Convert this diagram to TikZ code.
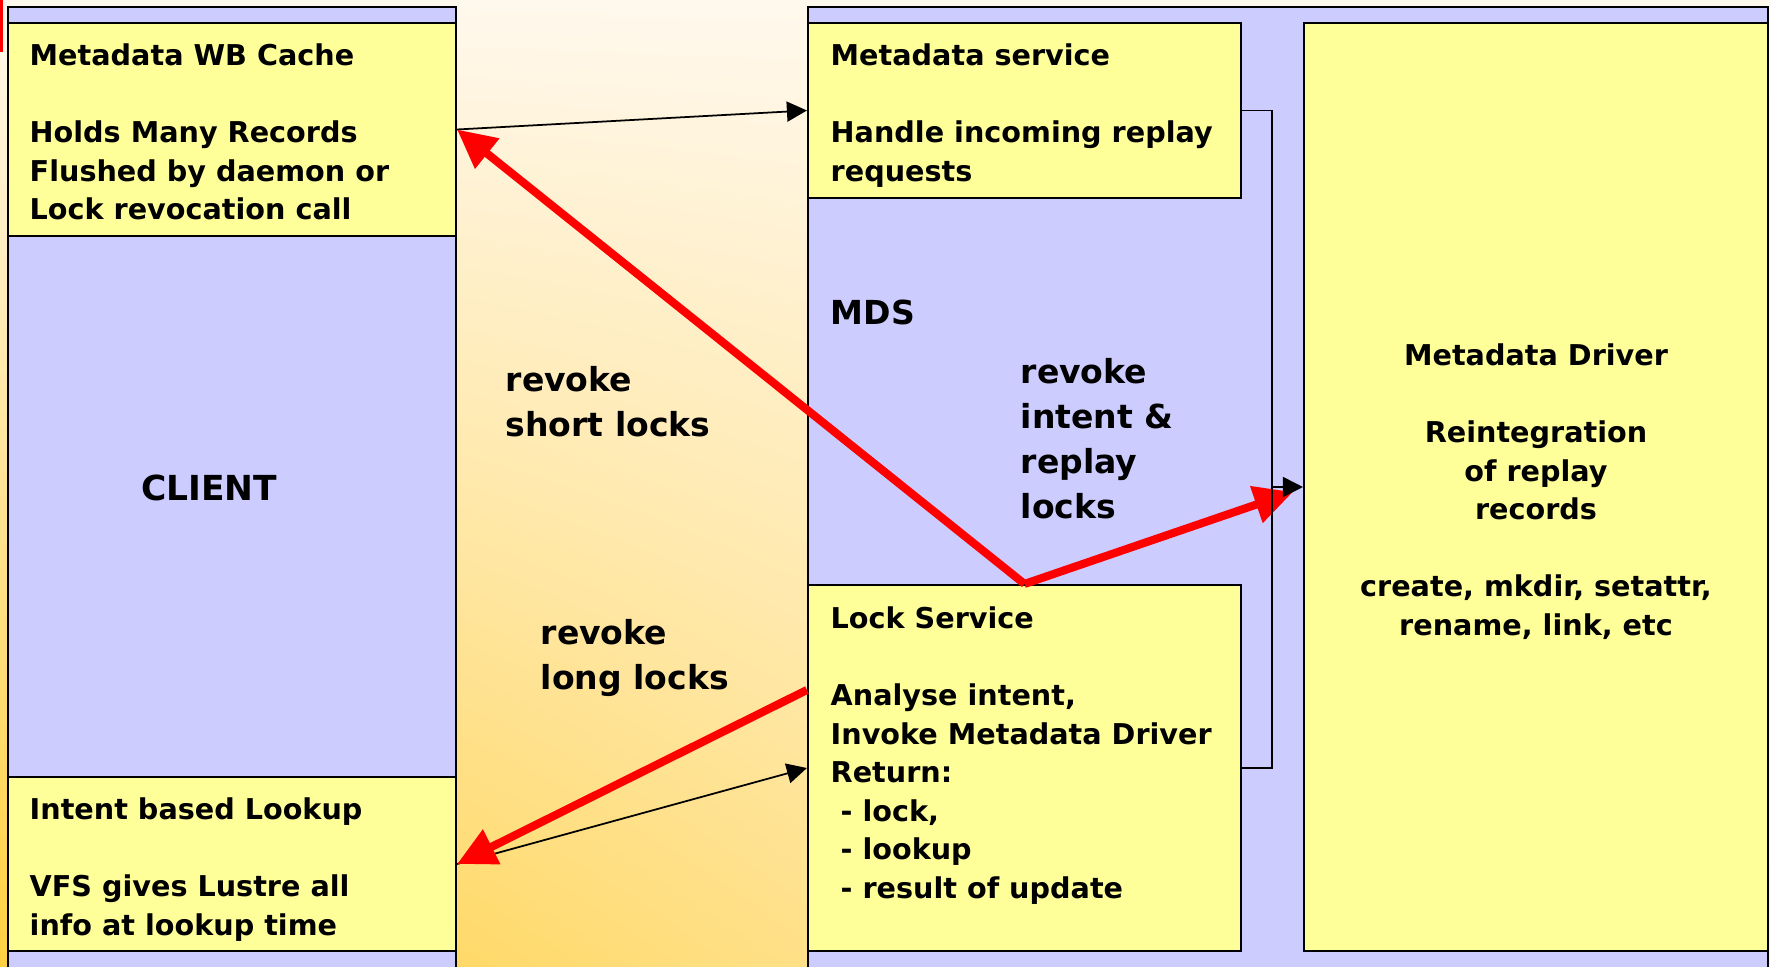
\documentclass[tikz,border=0pt]{standalone}
\usepackage{fontspec}
\setmainfont{DejaVu Sans}
\usetikzlibrary{arrows.meta,fit,shadings}

\definecolor{panelblue}{RGB}{204,204,255}
\definecolor{boxyellow}{RGB}{255,255,153}
\definecolor{bgtop}{RGB}{255,248,237}
\definecolor{bgleft}{RGB}{255,208,64}
\definecolor{bgright}{RGB}{255,243,220}

\tikzset{
  panel/.style={draw, line width=0.6pt, fill=panelblue, inner sep=0pt},
  box/.style={draw, line width=0.6pt, fill=boxyellow, inner sep=0pt},
  txt/.style={inner sep=0pt, align=left, execute at begin node=\strut,
    font=\fontsize{8.15}{10.95}\selectfont\bfseries},
  big/.style={inner sep=0pt, align=left, execute at begin node=\strut,
    font=\fontsize{9.4}{12.8}\selectfont\bfseries},
  call/.style={line width=0.5pt, -{Triangle[length=5.7pt,width=5.7pt]}},
  revoke/.style={red, line width=2.3pt, -{Triangle[length=11pt,width=10.5pt]}}
}

\begin{document}
\begin{tikzpicture}[x=0.01cm,y=0.01cm]
\clip (0,0) rectangle (1770,966);
\shade[upper left=bgtop, upper right=bgtop, lower left=bgleft, lower right=bgright]
  (0,0) rectangle (1770,966);
\fill[red] (0,914) rectangle (3,966);

  % client side
  \node[panel, fit={(8,-20) (456,959)}] (client) {};
  \node[box, fit={(8,730) (456,943)}] (wb) {};
  \node[box, fit={(8,15) (456,189)}] (lookup) {};

  % server side
  \node[panel, fit={(808,-20) (1768,959)}] (mds) {};
  \node[box, fit={(808,768) (1241,943)}] (svc) {};
  \node[box, fit={(808,15) (1241,381)}] (lock) {};
  \node[box, fit={(1304,15) (1768,943)}] (driver) {};
  \coordinate (bend) at (1272,0);

  \node[txt, anchor=north west] (wbtxt) at (29,923)
    {Metadata WB Cache\\[11pt] Holds Many Records\\ Flushed by daemon or\\ Lock revocation call};
  \node[txt, anchor=north west] (lookuptxt) at (29,169)
    {Intent based Lookup\\[11pt] VFS gives Lustre all\\ info at lookup time};
  \node[big, font=\fontsize{9.8}{12.8}\selectfont\bfseries, anchor=base] (clienttxt) at (209,466) {CLIENT};

  \node[txt, anchor=north west] (svctxt) at (830,923)
    {Metadata service\\[11pt] Handle incoming replay\\ requests};
  \node[big, anchor=base west] (mdstxt) at (830,641) {MDS};
  \node[txt, anchor=north west] (locktxt) at (830,360)
    {Lock Service\\[11pt] Analyse intent,\\ Invoke Metadata Driver\\ Return:\\
     \ - lock,\\ \ - lookup\\ \ - result of update};
  \node[txt, align=center, anchor=north] (drivertxt) at (1536,623)
    {Metadata Driver\\[11pt] Reintegration\\ of replay\\ records\\[11pt]
     create, mkdir, setattr,\\ rename, link, etc};

  \node[big, anchor=north west] (shorttxt) at (505,600) {revoke\\ short locks};
  \node[big, anchor=north west] (longtxt) at (540,347) {revoke\\ long locks};
  \node[big, anchor=north west] (intenttxt) at (1020,608) {revoke\\ intent \&\\ replay\\ locks};

  % calls into the server
  \draw[call] (wb.east) -- (svc.west);
  \draw[call] (lookup.east) -- (lock.west);

  % lock revocations
  \draw[revoke] (lock.north) -- (wb.east);
  \draw[revoke] ([yshift=0.78cm]lock.west) -- (lookup.east);
  \draw[revoke] (lock.north) -- ([xshift=-0.1cm,yshift=-0.05cm]driver.west);

  % both services feed the driver
  \draw[line width=0.5pt] (svc.east) -- (svc.east -| bend) |- (lock.east);
  \draw[call] (driver.west -| bend) -- (driver.west);
\end{tikzpicture}
\end{document}
